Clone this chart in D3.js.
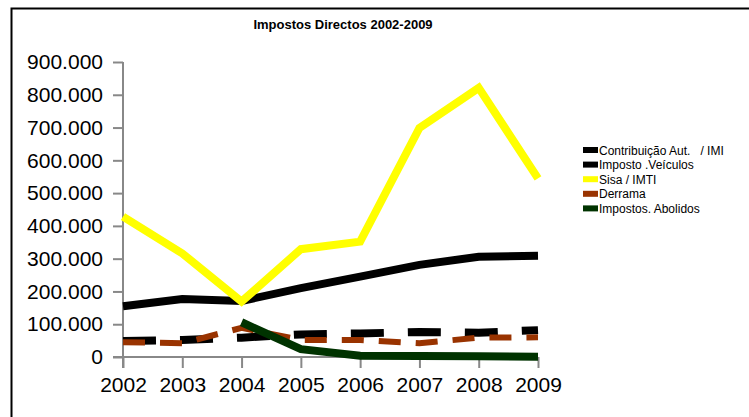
<!DOCTYPE html>
<html>
<head>
<meta charset="utf-8">
<script src="https://cdn.jsdelivr.net/npm/d3@7"></script>
<style>
  body { margin: 0; background: #fff; }
  svg { display: block; font-family: "Liberation Sans", Arial, sans-serif; }
</style>
</head>
<body>
<svg id="chart" width="749" height="417"></svg>
<script>
// Chart data
const years = [2002, 2003, 2004, 2005, 2006, 2007, 2008, 2009];
const contribuicao = [155000, 177000, 171000, 210000, 245000, 281000, 306000, 309000];
const veiculos = [49000, 52000, 59000, 69000, 72000, 76000, 74000, 82000];
const sisa = [428000, 316000, 169000, 329000, 352000, 699000, 821000, 545000];
const derrama = [45000, 42000, 89000, 52000, 52000, 42000, 59000, 60000];
const abolidos = [null, null, 106000, 24000, 4000, 3000, 2000, 1000];
const yTicks = [0, 100000, 200000, 300000, 400000, 500000, 600000, 700000, 800000, 900000];

const series = [
  { name: "Contribuição Aut.   / IMI", values: contribuicao, color: "#000000", width: 8, dash: null },
  { name: "Imposto .Veículos", values: veiculos, color: "#000000", width: 8, dash: "33,24" },
  { name: "Sisa / IMTI", values: sisa, color: "#ffff00", width: 8, dash: null },
  { name: "Derrama", values: derrama, color: "#993300", width: 6, dash: "22,15" },
  { name: "Impostos. Abolidos", values: abolidos, color: "#003300", width: 8, dash: null }
];

const svg = d3.select("#chart");

// outer frame (only left and top edges visible)
svg.append("path")
  .attr("d", "M11.5,417 L11.5,8.5 L749,8.5")
  .attr("fill", "none")
  .attr("stroke", "#000")
  .attr("stroke-width", 2);

svg.append("text")
  .attr("x", 343).attr("y", 29)
  .attr("text-anchor", "middle")
  .style("font-size", "13px")
  .style("font-weight", "bold")
  .text("Impostos Directos 2002-2009");

const x = d3.scalePoint().domain(years).range([123, 538]);
const y = d3.scaleLinear().domain([0, 900000]).range([357, 62]);

const fmt = v => v === 0 ? "0" : d3.format(",")(v).replace(/,/g, ".");

// y axis
const yAxis = svg.append("g")
  .attr("transform", "translate(123,0)")
  .call(d3.axisLeft(y).tickValues(yTicks).tickSize(10).tickPadding(10).tickFormat(fmt));
yAxis.select(".domain").remove();
yAxis.selectAll(".tick line").attr("stroke", "#888").attr("stroke-width", 2);
yAxis.selectAll("text").style("font-size", "21px").attr("fill", "#000");

svg.append("line")
  .attr("x1", 123).attr("x2", 123).attr("y1", 62).attr("y2", 368)
  .attr("stroke", "#888").attr("stroke-width", 2);

// x axis
const xAxis = svg.append("g")
  .attr("transform", "translate(0,357)")
  .call(d3.axisBottom(x).tickSize(11).tickPadding(9).tickFormat(d3.format("d")));
xAxis.select(".domain").remove();
xAxis.selectAll(".tick line").attr("stroke", "#888").attr("stroke-width", 2);
xAxis.selectAll("text").style("font-size", "21px").attr("fill", "#000");

svg.append("line")
  .attr("x1", 113).attr("x2", 538).attr("y1", 357).attr("y2", 357)
  .attr("stroke", "#888").attr("stroke-width", 2);

// lines
const line = d3.line()
  .defined(d => d.v != null)
  .x(d => x(d.year))
  .y(d => y(d.v));

series.forEach(s => {
  svg.append("path")
    .datum(years.map((yr, i) => ({ year: yr, v: s.values[i] })))
    .attr("d", line)
    .attr("fill", "none")
    .attr("stroke", s.color)
    .attr("stroke-width", s.width)
    .attr("stroke-dasharray", s.dash)
    .attr("stroke-linejoin", "miter");
});

// legend
const legend = svg.append("g").attr("transform", "translate(583,150)");
series.forEach((s, i) => {
  const g = legend.append("g").attr("transform", `translate(0,${i * 14.6})`);
  g.append("rect")
    .attr("x", 0).attr("y", -3)
    .attr("width", 15).attr("height", 6)
    .attr("fill", s.color);
  g.append("text")
    .attr("x", 16).attr("y", 4.5)
    .style("font-size", "12px")
    .style("white-space", "pre")
    .attr("xml:space", "preserve")
    .text(s.name);
});
</script>
</body>
</html>
